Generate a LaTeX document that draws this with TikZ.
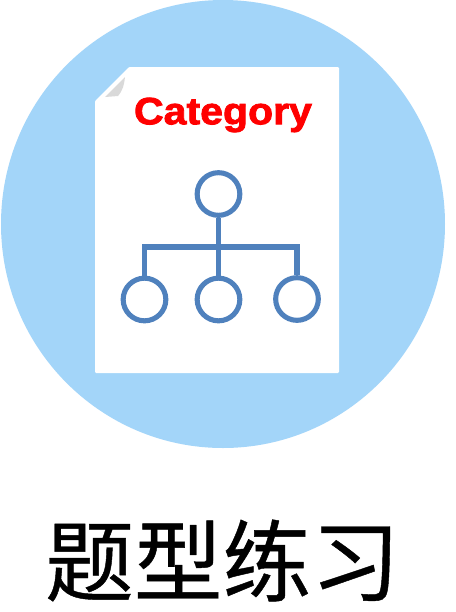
\documentclass[tikz,border=0pt]{standalone}
\usepackage{fontspec}
\setmainfont{Liberation Sans}
\newfontfamily\cjkfont{Noto Sans CJK SC}[FakeBold=0.5]
\newfontfamily\titlefont{Liberation Sans Bold}[FakeBold=2.2, FakeStretch=1.08]
\definecolor{bgblue}{HTML}{A3D5F9}
\definecolor{treeblue}{HTML}{4F81BD}
\definecolor{foldgray}{HTML}{D9D9D9}
\begin{document}
\begin{tikzpicture}[x=0.75pt, y=-0.75pt,
    treecircle/.style={draw=treeblue, circle, line width=3.8pt, minimum size=32pt, inner sep=0pt},
    treeline/.style={draw=treeblue, line width=3.8pt}
]
    \useasboundingbox (0,0) rectangle (455,612);
    \fill[white] (0,0) rectangle (455,612);

    % Background disc
    \fill[bgblue] (223,224) ellipse[x radius=166.5pt, y radius=168pt];

    % Sheet with clipped corner
    \fill[white, rounded corners=0.8pt] (95,101) -- (129,67) -- (339,67) -- (339,373) -- (95,373) -- cycle;
    \fill[foldgray] (105,97) -- (125,77) .. controls (124,85) and (123,90) .. (118,96) -- cycle;

    % Title
    \node (title) [font=\titlefont\fontsize{28.5pt}{30pt}\selectfont, text=red, inner sep=0pt] at (223,115) {Category};

    % Tree nodes
    \node (root) [treecircle] at (218.5,194) {};
    \node (left) [treecircle] at (144.5,299.5) {};
    \node (mid) [treecircle] at (218.5,299.5) {};
    \node (right) [treecircle] at (297,299) {};
    \coordinate (hubleft) at (144.5,247);
    \coordinate (hubmid) at (218.5,247);
    \coordinate (hubright) at (297,247);

    % Tree lines
    \draw[treeline] (root) -- (mid);
    \draw[treeline, line cap=rect] (hubleft) -- (hubright);
    \draw[treeline] (hubleft) -- (left);
    \draw[treeline] (hubright) -- (right);

    % Caption
    \node (caption) [font=\cjkfont\fontsize{66.5pt}{70pt}\selectfont, inner sep=0pt] at (222.5,560.5) {题型练习};
\end{tikzpicture}
\end{document}
